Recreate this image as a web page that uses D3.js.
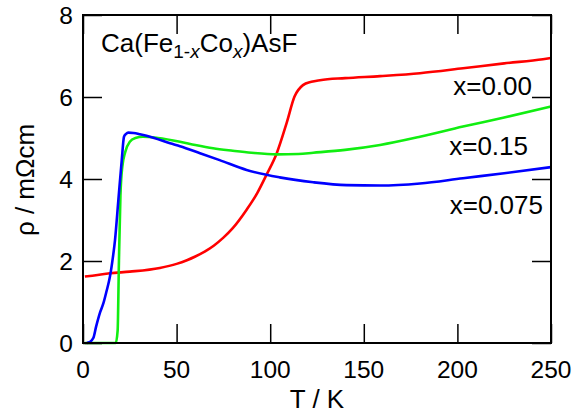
<!DOCTYPE html>
<html><head><meta charset="utf-8">
<script src="https://cdn.jsdelivr.net/npm/d3@7"></script>
<style>body{margin:0;background:#fff}svg text{font-family:"Liberation Sans",Arial,sans-serif;fill:#000}</style>
</head><body><svg id="c" width="574" height="413"></svg>
<script>
const xTicks=[0,50,100,150,200,250];
const yTicks=[0,2,4,6,8];
const seriesNames=["x=0.00","x=0.15","x=0.075"];
const seriesColors=["#ff0000","#11ee11","#0000ff"];
// x=0.00
const redT=[1,5,14.4,25,41,50,55.5,60,65,70,75,80,87.4,93,98,103.5,108.8,113,117.5,122,126.6,140,158.7,180,203,225,245.7,250];
const redR=[1.62,1.64,1.70,1.74,1.83,1.93,2.02,2.11,2.23,2.38,2.57,2.80,3.25,3.65,4.10,4.63,5.37,6.01,6.29,6.37,6.41,6.46,6.51,6.58,6.70,6.82,6.92,6.95];
// x=0.15
const greenT=[1,5,10,15,17.5,18.5,19.2,20,21,22.5,25,28,32,40,51.8,60,69.5,80,90,103.5,115,123,140,158.7,180,203,225,250];
const greenR=[0,0,0,0,0,0.3,2.0,3.6,4.3,4.65,4.91,5.0,5.03,5.0,4.91,4.83,4.75,4.69,4.64,4.60,4.61,4.64,4.71,4.83,5.03,5.28,5.50,5.77];
// x=0.075
const blueT=[2,3.5,5.5,7,9,10.9,12.5,14.4,16,17.1,18.9,20.7,21.9,23,24.2,27,30.4,38,46.5,51.8,62.5,73,87.4,105,123,140.8,158.7,180,203,225,250];
const blueR=[0,0.02,0.12,0.4,0.73,0.97,1.25,1.62,2.1,2.51,3.49,4.46,5.03,5.10,5.13,5.12,5.09,5.0,4.87,4.80,4.63,4.46,4.22,4.04,3.92,3.85,3.84,3.89,4.02,4.14,4.29];

const svg=d3.select("#c");
const L=83,R=551,T=15,B=343;
const x=d3.scaleLinear().domain([0,250]).range([L,R]);
const y=d3.scaleLinear().domain([0,8]).range([B,T]);
const fs=26, tfs=24.5, tl=19;

const data=[[redT,redR],[greenT,greenR],[blueT,blueR]];
const line=d3.line().x(d=>x(d[0])).y(d=>y(d[1])).curve(d3.curveMonotoneX);
const plot=svg.append("g");
data.forEach((s,i)=>{
  const pts=s[0].map((t,j)=>[t,s[1][j]]);
  plot.append("path").attr("d",line(pts)).attr("fill","none").attr("stroke",seriesColors[i]).attr("stroke-width",2.6).attr("stroke-linejoin","round");
});

// axes
const ax=(g,axis)=>{g.call(axis);g.select(".domain").remove();g.selectAll("line").attr("stroke","#000").attr("stroke-width",1.5);g.selectAll("text").remove();};
svg.append("g").attr("transform",`translate(0,${B})`).call(g=>ax(g,d3.axisTop(x).tickValues(xTicks).tickSize(tl)));
svg.append("g").attr("transform",`translate(0,${T})`).call(g=>ax(g,d3.axisBottom(x).tickValues(xTicks).tickSize(tl)));
svg.append("g").attr("transform",`translate(${L},0)`).call(g=>ax(g,d3.axisRight(y).tickValues(yTicks).tickSize(tl)));
svg.append("g").attr("transform",`translate(${R},0)`).call(g=>ax(g,d3.axisLeft(y).tickValues(yTicks).tickSize(tl)));
svg.append("rect").attr("x",L).attr("y",T).attr("width",R-L).attr("height",B-T).attr("fill","none").attr("stroke","#000").attr("stroke-width",2);

// tick labels
svg.append("g").selectAll("text").data(xTicks).join("text").attr("x",d=>x(d)).attr("y",378).attr("text-anchor","middle").attr("font-size",tfs).text(d=>d);
svg.append("g").selectAll("text").data(yTicks).join("text").attr("x",73).attr("y",d=>y(d)+9).attr("text-anchor","end").attr("font-size",tfs).text(d=>d);

// axis titles
svg.append("text").attr("x",(L+R)/2).attr("y",408).attr("text-anchor","middle").attr("font-size",fs).text("T / K");
svg.append("text").attr("transform","translate(34,180) rotate(-90)").attr("text-anchor","middle").attr("font-size",fs).text("ρ / mΩcm");

// title
const tt=svg.append("text").attr("x",101).attr("y",52).attr("font-size",fs);
tt.append("tspan").text("Ca(Fe");
tt.append("tspan").attr("font-size",19).attr("dy",6).text("1-");
tt.append("tspan").attr("font-size",19).attr("font-style","italic").text("x");
tt.append("tspan").attr("dy",-6).text("Co");
tt.append("tspan").attr("font-size",19).attr("dy",6).attr("font-style","italic").text("x");
tt.append("tspan").attr("dy",-6).text(")AsF");

// series labels
const labPos=[[532,95],[528,155],[543,214]];
svg.append("g").selectAll("text").data(seriesNames).join("text").attr("x",(d,i)=>labPos[i][0]).attr("y",(d,i)=>labPos[i][1]).attr("text-anchor","end").attr("font-size",fs).text(d=>d);
</script></body></html>
